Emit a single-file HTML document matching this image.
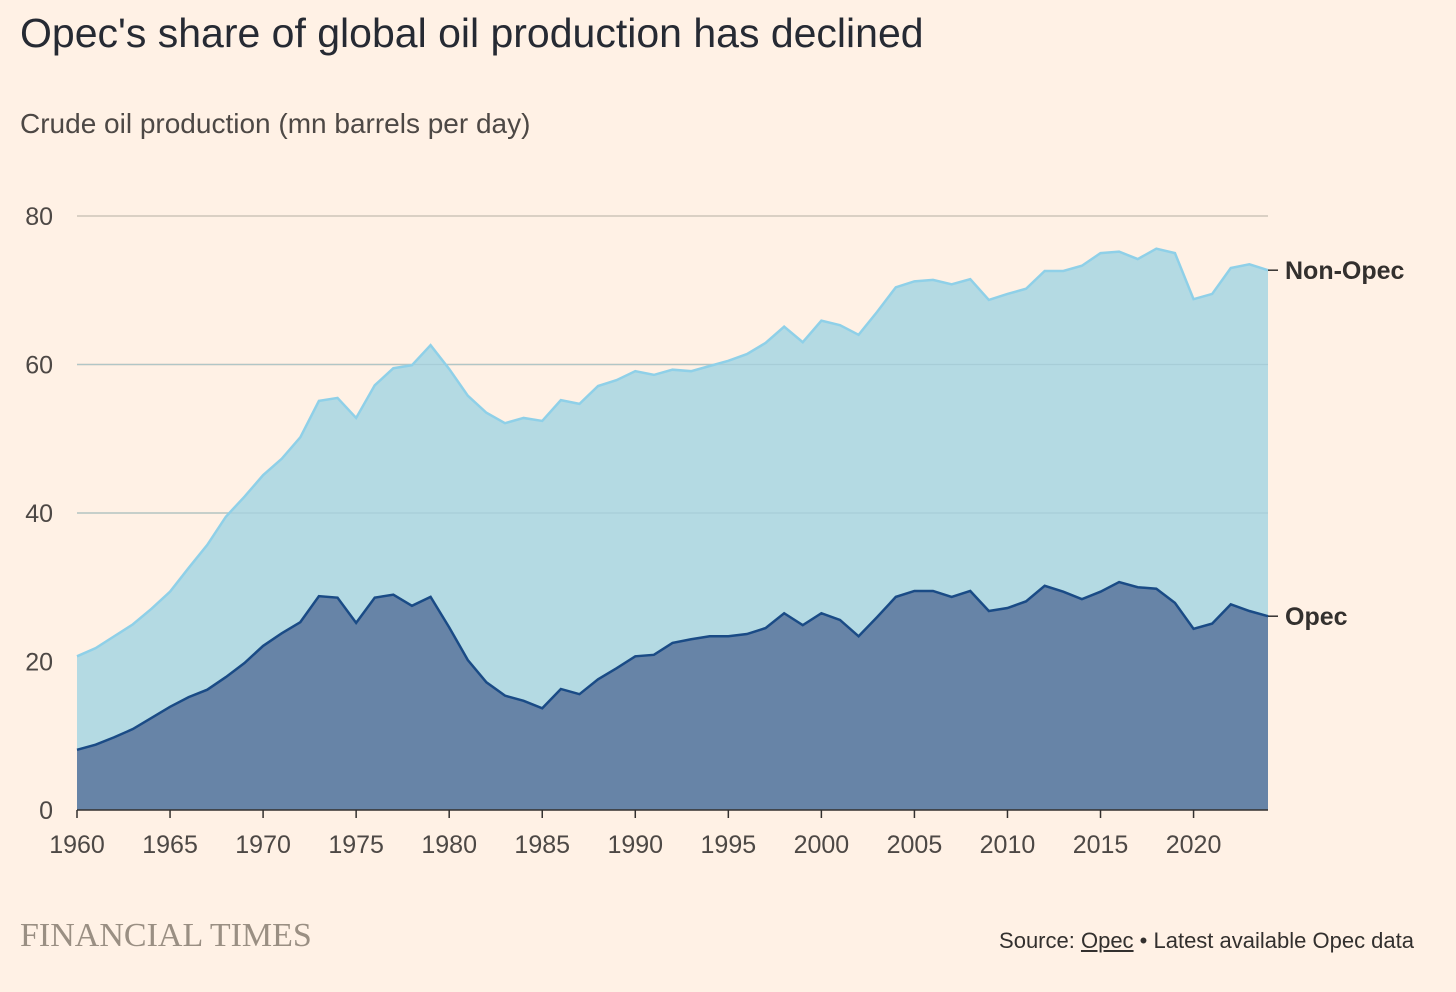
<!DOCTYPE html>
<html><head><meta charset="utf-8"><style>
body{margin:0;background:#fff1e5;width:1456px;height:992px;overflow:hidden;font-family:"Liberation Sans",sans-serif;color:#33302e}
#title{position:absolute;left:20px;top:10px;font-size:41px;color:#262a33}
#sub{position:absolute;left:20px;top:108px;font-size:28px;color:#4d4845}
#ft{position:absolute;left:20px;top:917px;font-family:"Liberation Serif",serif;font-size:34px;color:#9a8f83}
#src{position:absolute;right:42px;top:928px;font-size:22px;color:#33302e}
svg{position:absolute;left:0;top:0}
</style></head><body>
<div id="title">Opec's share of global oil production has declined</div>
<div id="sub">Crude oil production (mn barrels per day)</div>
<div id="ft">FINANCIAL TIMES</div>
<div id="src">Source: <u>Opec</u> • Latest available Opec data</div>
<svg id="chart" width="1456" height="992"></svg>
<script>
const years=[];for(let y=1960;y<=2024;y++)years.push(y);
const opec=[8.1,8.8,9.8,10.9,12.4,13.9,15.2,16.2,17.9,19.8,22.1,23.8,25.3,28.8,28.6,25.2,28.6,29.0,27.5,28.7,24.6,20.2,17.2,15.4,14.7,13.7,16.3,15.6,17.6,19.1,20.7,20.9,22.5,23.0,23.4,23.4,23.7,24.5,26.5,24.9,26.5,25.6,23.4,26.0,28.7,29.5,29.5,28.7,29.5,26.8,27.2,28.1,30.2,29.4,28.4,29.4,30.7,30.0,29.8,27.9,24.4,25.1,27.7,26.8,26.1];
const total=[20.7,21.8,23.4,25.0,27.1,29.4,32.6,35.7,39.5,42.2,45.1,47.3,50.2,55.1,55.5,52.8,57.2,59.5,59.9,62.6,59.4,55.8,53.5,52.1,52.8,52.4,55.2,54.7,57.1,57.9,59.1,58.6,59.3,59.1,59.8,60.5,61.4,62.9,65.1,63.0,65.9,65.3,64.0,67.1,70.4,71.2,71.4,70.8,71.5,68.7,69.5,70.2,72.6,72.6,73.3,75.0,75.2,74.2,75.6,75.0,68.8,69.5,73.0,73.5,72.7];
const yTicks=[0,20,40,60,80];
const xTicks=[1960,1965,1970,1975,1980,1985,1990,1995,2000,2005,2010,2015,2020];
const NS="http://www.w3.org/2000/svg",svg=document.getElementById('chart');
const X=y=>77+(y-1960)*(1268-77)/64, Y=v=>810-v*(810-216)/80;
function mk(t,a){const e=document.createElementNS(NS,t);for(const k in a)e.setAttribute(k,a[k]);svg.appendChild(e);return e;}
yTicks.forEach(v=>{
 if(v>0){const l=mk('line',{x1:77,x2:1268,y1:Y(v),y2:Y(v),stroke:'#cec6b9','stroke-width':1.5});
 
 }
 const t=mk('text',{x:53,y:Y(v)+9,'font-size':25,fill:'#4d4845','text-anchor':'end'});t.textContent=v;
 
 
});
const topPath=years.map((y,i)=>X(y)+','+Y(total[i])).join(' L');
const midPath=years.map((y,i)=>X(y)+','+Y(opec[i])).join(' L');
const a1=mk('path',{d:'M'+topPath+' L'+X(2024)+','+Y(0)+' L'+X(1960)+','+Y(0)+'Z',fill:'#b4dae3'});


const a2=mk('path',{d:'M'+midPath+' L'+X(2024)+','+Y(0)+' L'+X(1960)+','+Y(0)+'Z',fill:'#6784a7'});


[40,60].forEach(v=>{const l=mk('line',{x1:77,x2:1268,y1:Y(v),y2:Y(v),stroke:'#9fc6d0','stroke-width':1.2,opacity:0.6});
 
 });
const l1=mk('path',{d:'M'+topPath,fill:'none',stroke:'#8fd0e8','stroke-width':2.5});


const l2=mk('path',{d:'M'+midPath,fill:'none',stroke:'#1a4b86','stroke-width':2.5});


const ax=mk('line',{x1:77,x2:1268,y1:Y(0),y2:Y(0),stroke:'#33302e','stroke-width':1.5});


xTicks.forEach(y=>{
 const tk=mk('line',{x1:X(y),x2:X(y),y1:Y(0),y2:Y(0)+8,stroke:'#33302e','stroke-width':1.5});
 
 
 const t=mk('text',{x:X(y),y:Y(0)+43,'font-size':25,fill:'#4d4845','text-anchor':'middle'});t.textContent=y;
 
 
});
const n=years.length-1;
[[total[n],'Non-Opec'],[opec[n],'Opec']].forEach(([v,s])=>{
 const l=mk('line',{x1:1268,x2:1278,y1:Y(v),y2:Y(v),stroke:'#33302e','stroke-width':1.5});
 
 
 const t=mk('text',{x:1285,y:Y(v)+9,'font-size':25,'font-weight':'bold',fill:'#33302e'});t.textContent=s;
 
 
});
</script>
</body></html>
